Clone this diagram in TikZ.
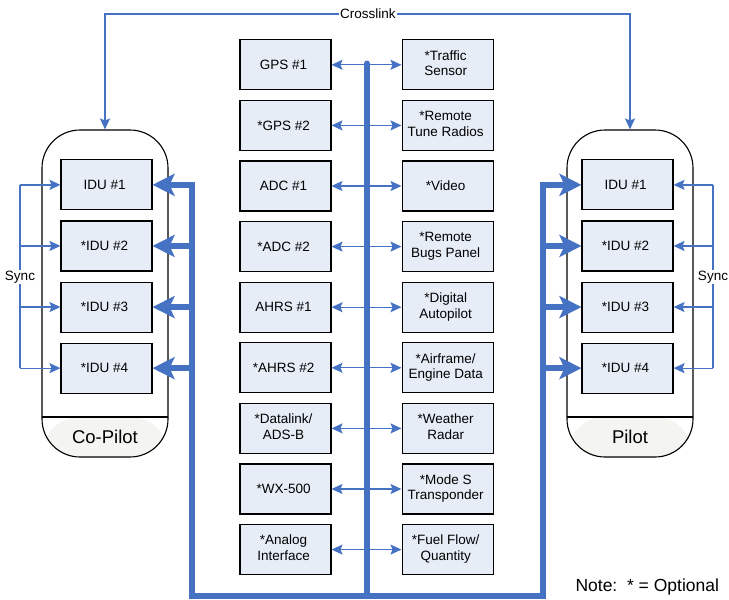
\documentclass[tikz,border=0pt]{standalone}
\usepackage{fontspec}
\setmainfont{Liberation Sans}
\usetikzlibrary{positioning,arrows.meta,matrix,calc}
\definecolor{linkblue}{RGB}{70,114,196}
\definecolor{boxfill}{RGB}{231,237,247}
\definecolor{footfill}{RGB}{244,244,240}
\newcommand\dual[2]{\begin{tabular}{@{}c@{}}#1\\#2\end{tabular}}
\tikzstyle{unit}      = [rectangle, draw=black, line width=1.1pt, fill=boxfill, minimum width=91pt, minimum height=50pt, align=center, text centered, anchor=center]
\tikzstyle{capsule}   = [draw=black, line width=1.1pt, fill=white, rounded corners=38pt, minimum width=126pt, minimum height=327pt,
                         path picture={\fill[footfill] (path picture bounding box.south west) rectangle ([yshift=40pt]path picture bounding box.south east);
                                       \draw[line width=1.1pt] ([yshift=40pt]path picture bounding box.south west) -- ([yshift=40pt]path picture bounding box.south east);}]
\tikzstyle{link}      = [draw=linkblue, line width=1.3pt]
\tikzstyle{linkarrow} = [link, -{Stealth[length=11pt,width=10pt,inset=2pt]}]
\tikzstyle{linkboth}  = [link, {Stealth[length=11pt,width=10pt,inset=2pt]}-{Stealth[length=11pt,width=10pt,inset=2pt]}]
\tikzstyle{bus}       = [draw=linkblue, line width=5.5pt]
\tikzstyle{busarrow}  = [bus, -{Stealth[length=22pt,width=22pt,inset=5pt]}]

\begin{document}
\begin{tikzpicture}[x=1pt, y=-1pt, font=\fontsize{13.5}{15.5}\selectfont,
			array/.style={matrix of nodes, nodes={unit}, inner sep=0pt, row sep=9.5pt},
			label/.style={fill=white, inner sep=1pt}]
		\useasboundingbox (0,0) rectangle (729,600);

		% pilot stations
		\node[capsule] (copilot) at (105,293.5) {};
		\node[capsule] (pilot) at (630,293.5) {};
		\node[font=\fontsize{18.5}{20}\selectfont] (copilottext) at (105,437) {Co-Pilot};
		\node[font=\fontsize{18.5}{20}\selectfont] (pilottext) at (630,437) {Pilot};

		\matrix[array, row sep=10pt] (cp) at (106.5,276.5) {
			IDU \#1 \\ *IDU \#2 \\ *IDU \#3 \\ *IDU \#4 \\
		};
		\matrix[array, row sep=10pt] (pl) at (627.5,276.5) {
			IDU \#1 \\ *IDU \#2 \\ *IDU \#3 \\ *IDU \#4 \\
		};

		% sensors and devices
		\matrix[array, column sep=70pt] (dev) at (366.5,307.2) {
			GPS \#1                 & \dual{*Traffic}{Sensor}        \\
			*GPS \#2                & \dual{*Remote}{Tune Radios}    \\
			ADC \#1                 & *Video                         \\
			*ADC \#2                & \dual{*Remote}{Bugs Panel}     \\
			AHRS \#1                & \dual{*Digital}{Autopilot}     \\
			*AHRS \#2               & \dual{*Airframe/}{Engine Data} \\
			\dual{*Datalink/}{ADS-B} & \dual{*Weather}{Radar}        \\
			*WX-500                 & \dual{*Mode S}{Transponder}    \\
			\dual{*Analog}{Interface} & \dual{*Fuel Flow/}{Quantity} \\
		};

		% busses
		\coordinate (lbus) at (192,596);
		\coordinate (cbus) at (367,596);
		\coordinate (rbus) at (543,596);
		\draw[bus, line cap=rect] (cp-1-1.east -| lbus) -- (lbus) -- (rbus) -- (pl-1-1.west -| rbus);
		\draw[bus, line cap=round] (cbus) -- ($(dev-1-1.east -| cbus)+(0,-1.5)$);
		\foreach \i in {1,...,4} {
			\draw[busarrow] (cp-\i-1.east -| lbus) -- (cp-\i-1.east);
			\draw[busarrow] (pl-\i-1.west -| rbus) -- (pl-\i-1.west);
		}
		\foreach \i in {1,...,9}
			\draw[linkboth] (dev-\i-1.east) -- (dev-\i-2.west);

		% sync
		\coordinate (syncl) at (20,277);
		\coordinate (syncr) at (713,277);
		\draw[link] (cp-1-1.west -| syncl) -- (cp-4-1.west -| syncl);
		\draw[link] (pl-1-1.east -| syncr) -- (pl-4-1.east -| syncr);
		\foreach \i in {1,...,4} {
			\draw[linkarrow] (cp-\i-1.west -| syncl) -- (cp-\i-1.west);
			\draw[linkarrow] (pl-\i-1.east -| syncr) -- (pl-\i-1.east);
		}
		\node[label] (synclt) at (syncl) {Sync};
		\node[label] (syncrt) at (syncr) {Sync};

		% crosslink
		\node[label] (xlink) at (368,14) {Crosslink};
		\draw[linkarrow] (xlink.west) -| (copilot.north);
		\draw[linkarrow] (xlink.east) -| (pilot.north);

		\node[anchor=west, font=\fontsize{17.5}{20}\selectfont] (note) at (572,587) {Note:\ \ * = Optional};
	\end{tikzpicture}
\end{document}
